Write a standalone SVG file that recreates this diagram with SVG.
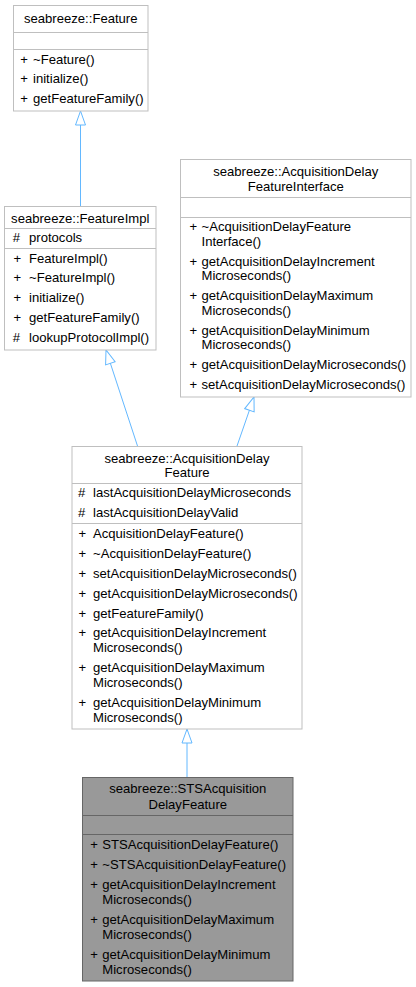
<svg xmlns="http://www.w3.org/2000/svg" width="416" height="987" viewBox="0 0 416 987">
<style>
.box{fill:#ffffff;stroke:#bfbfbf;stroke-width:1}
.sep{stroke:#bfbfbf;stroke-width:1}
.selbox{fill:#999999;stroke:#666666;stroke-width:1}
.selsep{stroke:#666666;stroke-width:1}
text{font-family:"Liberation Sans",Arial,Helvetica,sans-serif;font-size:13.1px;fill:#000000}
.t{text-anchor:middle}
.edge{fill:none;stroke:#63b8ff;stroke-width:1}
</style>
<defs>
<marker id="inh" markerUnits="userSpaceOnUse" markerWidth="16" markerHeight="12" viewBox="0 0 16 12" refX="15" refY="6" orient="auto">
<path d="M1,1 L15,6 L1,11 Z" fill="#ffffff" stroke="#63b8ff" stroke-width="1"/>
</marker>
</defs>
<rect width="416" height="987" fill="#ffffff"/>
<g id="connectors">
<path class="edge" d="M80.5,206 L80.5,111" marker-end="url(#inh)"/>
<path class="edge" d="M137.5,446 L106,350" marker-end="url(#inh)"/>
<path class="edge" d="M237,446 L254,397" marker-end="url(#inh)"/>
<path class="edge" d="M187,777 L187,729" marker-end="url(#inh)"/>
</g>
<g id="Feature">
<rect class="box" x="13.5" y="5.5" width="134.5" height="105.5"/>
<line class="sep" x1="13.5" y1="32.5" x2="148" y2="32.5"/>
<line class="sep" x1="13.5" y1="49.5" x2="148" y2="49.5"/>
<text class="t" x="80.75" y="23">seabreeze::Feature</text>
<text x="20.3" y="63.5">+</text><text x="33" y="63.5">~Feature()</text>
<text x="20.3" y="83">+</text><text x="33" y="83">initialize()</text>
<text x="20.3" y="102.5">+</text><text x="33" y="102.5">getFeatureFamily()</text>
</g>
<g id="FeatureImpl">
<rect class="box" x="4.5" y="206.5" width="151.5" height="143.5"/>
<line class="sep" x1="4.5" y1="228.5" x2="156" y2="228.5"/>
<line class="sep" x1="4.5" y1="248.5" x2="156" y2="248.5"/>
<text class="t" x="80.25" y="222.5">seabreeze::FeatureImpl</text>
<text x="12.7" y="242">#</text><text x="29" y="242">protocols</text>
<text x="13.4" y="262.5">+</text><text x="29" y="262.5">FeatureImpl()</text>
<text x="13.4" y="282.3">+</text><text x="29" y="282.3">~FeatureImpl()</text>
<text x="13.4" y="302.1">+</text><text x="29" y="302.1">initialize()</text>
<text x="13.4" y="321.9">+</text><text x="29" y="321.9">getFeatureFamily()</text>
<text x="12.7" y="341.7">#</text><text x="29" y="341.7">lookupProtocolImpl()</text>
</g>
<g id="AcquisitionDelayFeatureInterface">
<rect class="box" x="180.5" y="159.5" width="230.5" height="237.5"/>
<line class="sep" x1="180.5" y1="197.5" x2="411" y2="197.5"/>
<line class="sep" x1="180.5" y1="217.5" x2="411" y2="217.5"/>
<text class="t" x="295.75" y="175.5">seabreeze::AcquisitionDelay</text>
<text class="t" x="295.75" y="190.5">FeatureInterface</text>
<text x="189.5" y="231">+</text><text x="201.5" y="231">~AcquisitionDelayFeature</text>
<text x="201.5" y="245.7">Interface()</text>
<text x="189.5" y="265.5">+</text><text x="201.5" y="265.5">getAcquisitionDelayIncrement</text>
<text x="201.5" y="280.2">Microseconds()</text>
<text x="189.5" y="300">+</text><text x="201.5" y="300">getAcquisitionDelayMaximum</text>
<text x="201.5" y="314.7">Microseconds()</text>
<text x="189.5" y="334.5">+</text><text x="201.5" y="334.5">getAcquisitionDelayMinimum</text>
<text x="201.5" y="349.2">Microseconds()</text>
<text x="189.5" y="369.3">+</text><text x="201.5" y="369.3">getAcquisitionDelayMicroseconds()</text>
<text x="189.5" y="389.3">+</text><text x="201.5" y="389.3">setAcquisitionDelayMicroseconds()</text>
</g>
<g id="AcquisitionDelayFeature">
<rect class="box" x="72" y="446.5" width="230" height="282.5"/>
<line class="sep" x1="72" y1="483.5" x2="302" y2="483.5"/>
<line class="sep" x1="72" y1="523.5" x2="302" y2="523.5"/>
<text class="t" x="187" y="462.5">seabreeze::AcquisitionDelay</text>
<text class="t" x="187" y="477">Feature</text>
<text x="78" y="496.5">#</text><text x="93" y="496.5">lastAcquisitionDelayMicroseconds</text>
<text x="78" y="516.5">#</text><text x="93" y="516.5">lastAcquisitionDelayValid</text>
<text x="78.5" y="537.5">+</text><text x="93" y="537.5">AcquisitionDelayFeature()</text>
<text x="78.5" y="557.5">+</text><text x="93" y="557.5">~AcquisitionDelayFeature()</text>
<text x="78.5" y="577.5">+</text><text x="93" y="577.5">setAcquisitionDelayMicroseconds()</text>
<text x="78.5" y="597.5">+</text><text x="93" y="597.5">getAcquisitionDelayMicroseconds()</text>
<text x="78.5" y="617.5">+</text><text x="93" y="617.5">getFeatureFamily()</text>
<text x="78.5" y="637.3">+</text><text x="93" y="637.3">getAcquisitionDelayIncrement</text>
<text x="93" y="652">Microseconds()</text>
<text x="78.5" y="672">+</text><text x="93" y="672">getAcquisitionDelayMaximum</text>
<text x="93" y="686.7">Microseconds()</text>
<text x="78.5" y="706.8">+</text><text x="93" y="706.8">getAcquisitionDelayMinimum</text>
<text x="93" y="721.5">Microseconds()</text>
</g>
<g id="STSAcquisitionDelayFeature">
<rect class="selbox" x="82.5" y="777.5" width="210.5" height="203.5"/>
<line class="selsep" x1="82.5" y1="815.5" x2="293" y2="815.5"/>
<line class="selsep" x1="82.5" y1="834.5" x2="293" y2="834.5"/>
<text class="t" x="187.75" y="793.3">seabreeze::STSAcquisition</text>
<text class="t" x="187.75" y="808.5">DelayFeature</text>
<text x="90.3" y="848.5">+</text><text x="102.3" y="848.5">STSAcquisitionDelayFeature()</text>
<text x="90.3" y="868.5">+</text><text x="102.3" y="868.5">~STSAcquisitionDelayFeature()</text>
<text x="90.3" y="888.5">+</text><text x="102.3" y="888.5">getAcquisitionDelayIncrement</text>
<text x="102.3" y="903.5">Microseconds()</text>
<text x="90.3" y="923.5">+</text><text x="102.3" y="923.5">getAcquisitionDelayMaximum</text>
<text x="102.3" y="938.5">Microseconds()</text>
<text x="90.3" y="958.5">+</text><text x="102.3" y="958.5">getAcquisitionDelayMinimum</text>
<text x="102.3" y="973.5">Microseconds()</text>
</g>
</svg>
